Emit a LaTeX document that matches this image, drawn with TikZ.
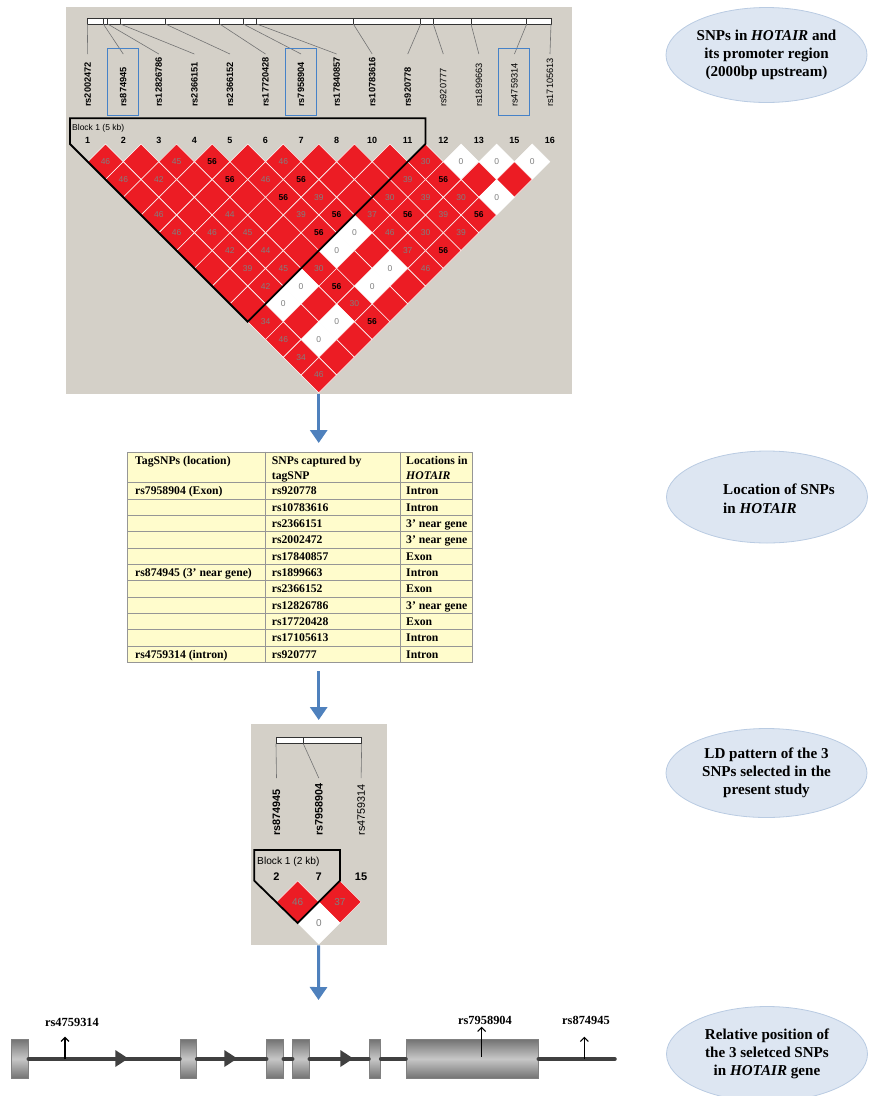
\documentclass[tikz,border=0pt]{standalone}
\usepackage{fontspec}
\setmainfont{Liberation Serif}
\newfontfamily\hvfont{Liberation Sans}
\usepackage{tikz}
\usetikzlibrary{shapes.geometric, arrows.meta, positioning}
\definecolor{hvback}{RGB}{212,208,200}
\definecolor{ldred}{RGB}{236,28,36}
\definecolor{ldgrey}{RGB}{128,128,128}
\definecolor{boxblue}{RGB}{70,130,200}
\definecolor{flowblue}{RGB}{79,129,189}
\definecolor{tabfill}{RGB}{255,252,204}
\definecolor{tabline}{RGB}{150,150,150}
\definecolor{geneline}{RGB}{64,64,64}
\definecolor{ovalfill}{RGB}{221,230,242}
\definecolor{ovaldraw}{RGB}{185,203,226}
\tikzstyle{panel} = [fill=hvback, inner sep=0pt, anchor=north west]
\tikzstyle{barra} = [draw=black!80, fill=white, line width=0.7pt]
\tikzstyle{guia} = [draw=black!55, line width=0.6pt]
\tikzstyle{snpname} = [rotate=90, anchor=west, inner sep=0pt, font=\hvfont\fontsize{9.2}{10}\selectfont]
\tikzstyle{snpbold} = [snpname, font=\hvfont\bfseries\fontsize{9.2}{10}\selectfont]
\tikzstyle{num} = [inner sep=0pt, font=\hvfont\bfseries\fontsize{9}{10}\selectfont]
\tikzstyle{marca} = [draw=boxblue, line width=0.9pt, minimum width=31pt, minimum height=66.7pt, inner sep=0pt]
\tikzstyle{cell} = [diamond, inner sep=0pt, minimum width=35.56pt, minimum height=35.56pt, draw=white, line width=0.5pt, font=\hvfont\fontsize{8.5}{9}\selectfont]
\tikzstyle{ldr} = [cell, fill=ldred]
\tikzstyle{ldg} = [cell, fill=ldred, text=ldgrey]
\tikzstyle{ldk} = [cell, fill=ldred, text=black, font=\hvfont\bfseries\fontsize{8.5}{9}\selectfont]
\tikzstyle{ldw} = [cell, fill=white, text=ldgrey]
\tikzstyle{bloque} = [draw=black, line width=1.8pt, line join=miter]
\tikzstyle{flow} = [draw=flowblue, line width=3pt, -{Triangle[width=17pt,length=13pt]}]
\tikzstyle{tabla} = [draw=tabline, fill=tabfill, line width=0.9pt, inner sep=0pt, anchor=north west]
\tikzstyle{celda} = [anchor=base west, inner sep=0pt, font=\bfseries\fontsize{11.7}{14.6}\selectfont]
\tikzstyle{exon} = [draw=black!50, top color=black!55, bottom color=black!55, middle color=black!22, line width=0.6pt]
\tikzstyle{intron} = [draw=geneline, line width=3.5pt, line cap=round]
\tikzstyle{snp} = [draw=black, line width=1.1pt, -{Straight Barb[length=4pt,width=8pt]}]
\tikzstyle{snplabel} = [inner sep=0pt, font=\bfseries\fontsize{12.4}{14}\selectfont]
\tikzstyle{nota} = [ellipse, fill=ovalfill, draw=ovaldraw, line width=0.8pt, minimum width=201pt, inner sep=0pt, align=center, font=\bfseries\fontsize{15.1}{18.3}\selectfont]
\begin{document}
\begin{tikzpicture}[x=1pt, y=-1pt]
	\useasboundingbox (0,0) rectangle (869,1096);
	% all SNPs
	\node[panel, minimum width=506pt, minimum height=386.6pt] (ldall) at (65.5,6.7) {};
	\draw[barra] (87.3,18.3) rectangle (551,24);
	\foreach \p [count=\k] in {87.3,103.3,107.7,120.3,165.3,219.7,243.3,256.7,353.3,420.7,433.3,471,526.7,551} {
		\draw[black!80, line width=0.6pt] (\p,18.3) -- (\p,24);
		\draw[guia] (\p,24) -- ({87.7+35.56*(\k-1)},54);
	}
	\foreach \k in {2,7,13}
		\node[marca] at ({87.7+35.56*(\k-1)},81.7) {};
	\foreach \n [count=\k] in {rs2002472,rs874945,rs12826786,rs2366151,rs2366152,rs17720428,rs7958904,rs17840857,rs10783616,rs920778}
		\node[snpbold] at ({87.7+35.56*(\k-1)},107) {\n};
	\foreach \n [count=\k from 11] in {rs920777,rs1899663,rs4759314,rs17105613}
		\node[snpname] at ({87.7+35.56*(\k-1)},107) {\n};
	\node[anchor=west, inner sep=0pt, font=\hvfont\fontsize{8.5}{9}\selectfont] at (72,128) {Block 1 (5 kb)};
	\foreach \n [count=\k] in {1,2,3,4,5,6,7,8,10,11,12,13,15,16}
		\node[num] at ({87.7+35.56*(\k-1)},140.3) {\n};
	\foreach \d/\fila in {
		1/{ldg/46,ldr/{},ldg/45,ldk/56,ldr/{},ldg/46,ldr/{},ldr/{},ldr/{},ldg/30,ldw/0,ldw/0,ldw/0},
		2/{ldg/46,ldg/42,ldr/{},ldk/56,ldg/46,ldk/56,ldr/{},ldr/{},ldg/39,ldk/56,ldr/{},ldr/{}},
		3/{ldr/{},ldr/{},ldr/{},ldr/{},ldk/56,ldg/39,ldr/{},ldg/30,ldg/39,ldg/30,ldw/0},
		4/{ldg/46,ldr/{},ldg/44,ldr/{},ldg/39,ldk/56,ldg/37,ldk/56,ldg/39,ldk/56},
		5/{ldg/46,ldg/46,ldg/45,ldr/{},ldk/56,ldw/0,ldg/46,ldg/30,ldg/39},
		6/{ldr/{},ldg/42,ldg/44,ldr/{},ldw/0,ldr/{},ldg/37,ldk/56},
		7/{ldr/{},ldg/39,ldg/45,ldg/30,ldr/{},ldw/0,ldg/46},
		8/{ldr/{},ldg/42,ldw/0,ldk/56,ldw/0,ldr/{}},
		9/{ldr/{},ldw/0,ldr/{},ldg/30,ldr/{}},
		10/{ldg/34,ldr/{},ldw/0,ldk/56},
		11/{ldg/46,ldw/0,ldr/{}},
		12/{ldg/34,ldr/{}},
		13/{ldg/46}} {
		\foreach \t/\v [count=\i] in \fila
			\node[style=\t] at ({87.7+35.56*(\i-1+\d/2)},{161.7+17.78*(\d-1)}) {\v};
	}
	\draw[bloque] (69.9,118.3) -- (69.9,143.9) -- (247.7,321.7) -- (425.5,143.9) -- (425.5,118.3) -- cycle;
	% table
	\node[tabla, minimum width=344.7pt, minimum height=210.6pt] (tab) at (127.3,451.7) {};
	\foreach \k in {0,...,10}
		\draw[tabline, line width=0.9pt] (127.3,{482.7+16.33*\k}) -- (472,{482.7+16.33*\k});
	\draw[tabline, line width=0.9pt] (265.7,451.7) -- (265.7,662.3) (400,451.7) -- (400,662.3);
	\node[celda] at (135,464.7) {TagSNPs (location)};
	\node[celda] at (271.7,464.7) {SNPs captured by};
	\node[celda] at (271.7,479.3) {tagSNP};
	\node[celda] at (406,464.7) {Locations in};
	\node[celda] at (406,479.3) {\textit{HOTAIR}};
	\foreach \a/\b/\c [count=\i] in {rs7958904 (Exon)/rs920778/Intron, {}/rs10783616/Intron, {}/rs2366151/3’ near gene, {}/rs2002472/3’ near gene, {}/rs17840857/Exon, rs874945 (3’ near gene)/rs1899663/Intron, {}/rs2366152/Exon, {}/rs12826786/3’ near gene, {}/rs17720428/Exon, {}/rs17105613/Intron, rs4759314 (intron)/rs920777/Intron} {
		\node[celda] at (135,{486.7+16.33*(\i-0.5)}) {\a};
		\node[celda] at (271.7,{486.7+16.33*(\i-0.5)}) {\b};
		\node[celda] at (406,{486.7+16.33*(\i-0.5)}) {\c};
	}
	% three tagSNPs
	\node[panel, minimum width=136pt, minimum height=221pt] (ldtres) at (250.5,724) {};
	\draw[barra] (276,737) rectangle (361.7,743.7);
	\foreach \p/\q in {276/276.5, 303.3/318.8, 361.7/361.1} {
		\draw[black!80, line width=0.6pt] (\p,737) -- (\p,743.7);
		\draw[guia] (\p,743.7) -- (\q,778);
	}
	\node[snpbold, font=\hvfont\bfseries\fontsize{10.8}{12}\selectfont] at (276.5,835.7) {rs874945};
	\node[snpbold, font=\hvfont\bfseries\fontsize{10.8}{12}\selectfont] at (318.8,835.7) {rs7958904};
	\node[snpname, font=\hvfont\fontsize{10.8}{12}\selectfont] at (361.1,835.7) {rs4759314};
	\node[anchor=west, inner sep=0pt, font=\hvfont\fontsize{10.2}{11}\selectfont] at (257,861.7) {Block 1 (2 kb)};
	\foreach \n/\x in {2/276.5, 7/318.8, 15/361.1}
		\node[num, font=\hvfont\bfseries\fontsize{11}{12}\selectfont] at (\x,876.7) {\n};
	\node[ldg, minimum width=42.3pt, minimum height=42.3pt, font=\hvfont\fontsize{10}{11}\selectfont] at (297.65,901.85) {46};
	\node[ldg, minimum width=42.3pt, minimum height=42.3pt, font=\hvfont\fontsize{10}{11}\selectfont] at (339.95,901.85) {37};
	\node[ldw, minimum width=42.3pt, minimum height=42.3pt, font=\hvfont\fontsize{10}{11}\selectfont] at (318.8,923) {0};
	\draw[bloque] (254.3,850) -- (254.3,880.7) -- (297.65,923.05) -- (339.95,880.7) -- (339.95,850) -- cycle;
	% gene
	\coordinate (gen) at (318.5,1000);
	\foreach \a/\b in {11.7/28.3, 180/196.7, 266.7/283.3, 292.7/309.3, 369/380.7, 406/538.3}
		\draw[exon] (\a,1039.3) rectangle (\b,1078.3);
	\foreach \a/\b in {28.3/180, 196.7/266.7, 283.3/292.7, 309.3/369, 380.7/406, 538.3/615}
		\draw[intron] (\a,1059) -- (\b,1059);
	\foreach \p in {128.3,237.3,353.3}
		\fill[geneline] (\p-13,1050) -- (\p,1058.5) -- (\p-13,1067) -- cycle;
	\coordinate (p1) at (65,1059);
	\coordinate (a1) at (65,1036.7);
	\coordinate (p2) at (481.7,1056.7);
	\coordinate (a2) at (481.7,1026.7);
	\coordinate (p3) at (584.3,1059);
	\coordinate (a3) at (584.3,1036.7);
	\draw[snp] (p1) -- (a1);
	\draw[snp] (p2) -- (a2);
	\draw[snp] (p3) -- (a3);
	\node[snplabel] (l1) at (72,1022.3) {rs4759314};
	\node[snplabel] (l2) at (485,1020.7) {rs7958904};
	\node[snplabel] (l3) at (586,1020.7) {rs874945};
	% flow
	\draw[flow, shorten >=8.7pt] (ldall.south) -- (ldall.south |- tab.north);
	\draw[flow, shorten <=8pt, shorten >=4pt] (ldtres.north |- tab.south) -- (ldtres.north);
	\draw[flow] (ldtres.south) -- (gen);
	% notes
	\node[nota, minimum height=95pt] (e1) at (766.5,55) {SNPs in \textit{HOTAIR} and\\its promoter region\\(2000bp upstream)};
	\node[nota, minimum height=92pt] (e2) at (767,497) {};
	\node[anchor=west, align=left, inner sep=0pt, font=\bfseries\fontsize{15.1}{18.3}\selectfont] at (723,498.7) {Location of SNPs\\in \textit{HOTAIR}};
	\node[nota, minimum height=89pt] (e3) at (766.5,773) {LD pattern of the 3\\SNPs selected in the\\present study};
	\node[nota, minimum height=95pt] (e4) at (767,1054) {Relative position of\\the 3 seletced SNPs\\in \textit{HOTAIR} gene};
\end{tikzpicture}
\end{document}
